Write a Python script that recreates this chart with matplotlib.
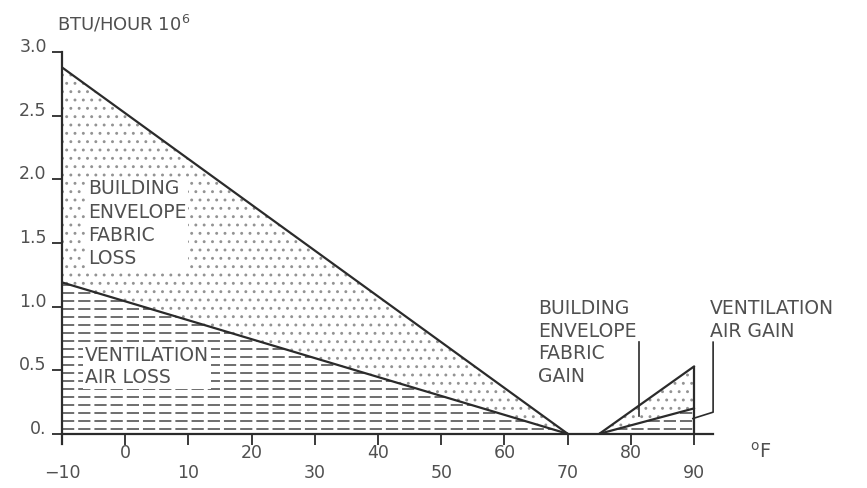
import matplotlib
matplotlib.use("Agg")
import matplotlib.pyplot as plt
import numpy as np

# outdoor temperature (deg F) vs heat flow (BTU/hour x 10^6)
loss_temps = [-10, 70]
loss_total = [2.88, 0.0]   # envelope fabric + ventilation
loss_vent = [1.19, 0.0]

gain_temps = [75, 90]
gain_total = [0.0, 0.53]
gain_vent = [0.0, 0.20]

xticks_low = [-10, 10, 30, 50, 70, 90]
xticks_high = [0, 20, 40, 60, 80]
yticks = [0, 0.5, 1.0, 1.5, 2.0, 2.5, 3.0]
ytick_labels = ["0.", "0.5", "1.0", "1.5", "2.0", "2.5", "3.0"]

ink = "#2b2b2b"
txt = "#505050"

plt.rcParams["hatch.linewidth"] = 0.9

fig = plt.figure(figsize=(8.67, 4.88), dpi=100)
ax = fig.add_axes([0.0715, 0.0902, 0.751, 0.803])
ax.set_xlim(-10, 93)
ax.set_ylim(-0.08, 3.0)


def dotted(xs, lo, hi):
    ax.fill_between(xs, lo, hi, facecolor="none", edgecolor="#939393",
                    hatch="..", linewidth=0)


def dashed(xs, lo, hi):
    poly = ax.fill_between(xs, lo, hi, facecolor="none", edgecolor="none")
    levels = np.arange(0.035, max(hi), 0.063)
    lc = ax.hlines(levels, xs[0], xs[-1], colors="#474747", linewidth=1.1,
                   linestyles=[(0, (8, 2.6))])
    lc.set_clip_path(poly.get_paths()[0], ax.transData)


dotted(loss_temps, loss_vent, loss_total)
dashed(loss_temps, [0, 0], loss_vent)
dotted(gain_temps, gain_vent, gain_total)
dashed(gain_temps, [0, 0], gain_vent)

for xs, ys in [(loss_temps, loss_total), (loss_temps, loss_vent),
               (gain_temps, gain_total), (gain_temps, gain_vent)]:
    ax.plot(xs, ys, color=ink, lw=1.6, solid_capstyle="round")
ax.vlines(gain_temps[-1], 0, gain_total[-1], color=ink, lw=1.6)

# leader lines for the gain labels
ax.plot([81.3, 81.3], [0.72, 0.14], color=ink, lw=1.2)
ax.plot([93.0, 93.0, 89.8], [0.72, 0.17, 0.12], color=ink, lw=1.2,
        clip_on=False)

# axes
for s in ["top", "right"]:
    ax.spines[s].set_visible(False)
ax.spines["bottom"].set_position(("data", 0))
for s in ["left", "bottom"]:
    ax.spines[s].set_linewidth(1.6)
    ax.spines[s].set_color(ink)

fmt = lambda v: ("\u2212" + str(-v)) if v < 0 else str(v)
ax.set_xticks(xticks_low, labels=[fmt(v) for v in xticks_low])
ax.set_xticks(xticks_high, labels=[fmt(v) for v in xticks_high], minor=True)
ax.tick_params(axis="x", which="both", direction="out", length=8, width=1.3,
               color=ink, labelcolor=txt, labelsize=12.5)
ax.tick_params(axis="x", which="major", pad=14)
ax.tick_params(axis="x", which="minor", pad=-1)

ax.set_yticks(yticks, labels=ytick_labels)
ax.tick_params(axis="y", direction="out", length=7, width=1.3, color=ink,
               labelcolor=txt, labelsize=12.5, pad=4)
for lbl in ax.get_yticklabels():
    lbl.set_va("baseline")

box = dict(facecolor="white", edgecolor="none", pad=1.5)
tkw = dict(fontsize=13.5, color=txt, va="top", ha="left")
ax.text(-5.9, 2.0, "BUILDING\nENVELOPE\nFABRIC\nLOSS", bbox=box,
        linespacing=1.28, **tkw)
ax.text(-6.4, 0.69, "VENTILATION\nAIR LOSS", bbox=box, linespacing=1.18,
        **tkw)
ax.text(65.3, 1.06, "BUILDING\nENVELOPE\nFABRIC\nGAIN", linespacing=1.25,
        **tkw)
ax.text(92.5, 1.06, "VENTILATION\nAIR GAIN", clip_on=False, linespacing=1.3,
        **tkw)

fig.text(57 / 867, 1 - 30 / 488, r"BTU/HOUR 10$^{6}$", fontsize=13,
         color=txt, va="baseline")
fig.text(750 / 867, 1 - 458 / 488, r"$^{\mathrm{o}}$F", fontsize=14,
         color=txt, va="baseline")

fig.savefig("out.png", dpi=100)
